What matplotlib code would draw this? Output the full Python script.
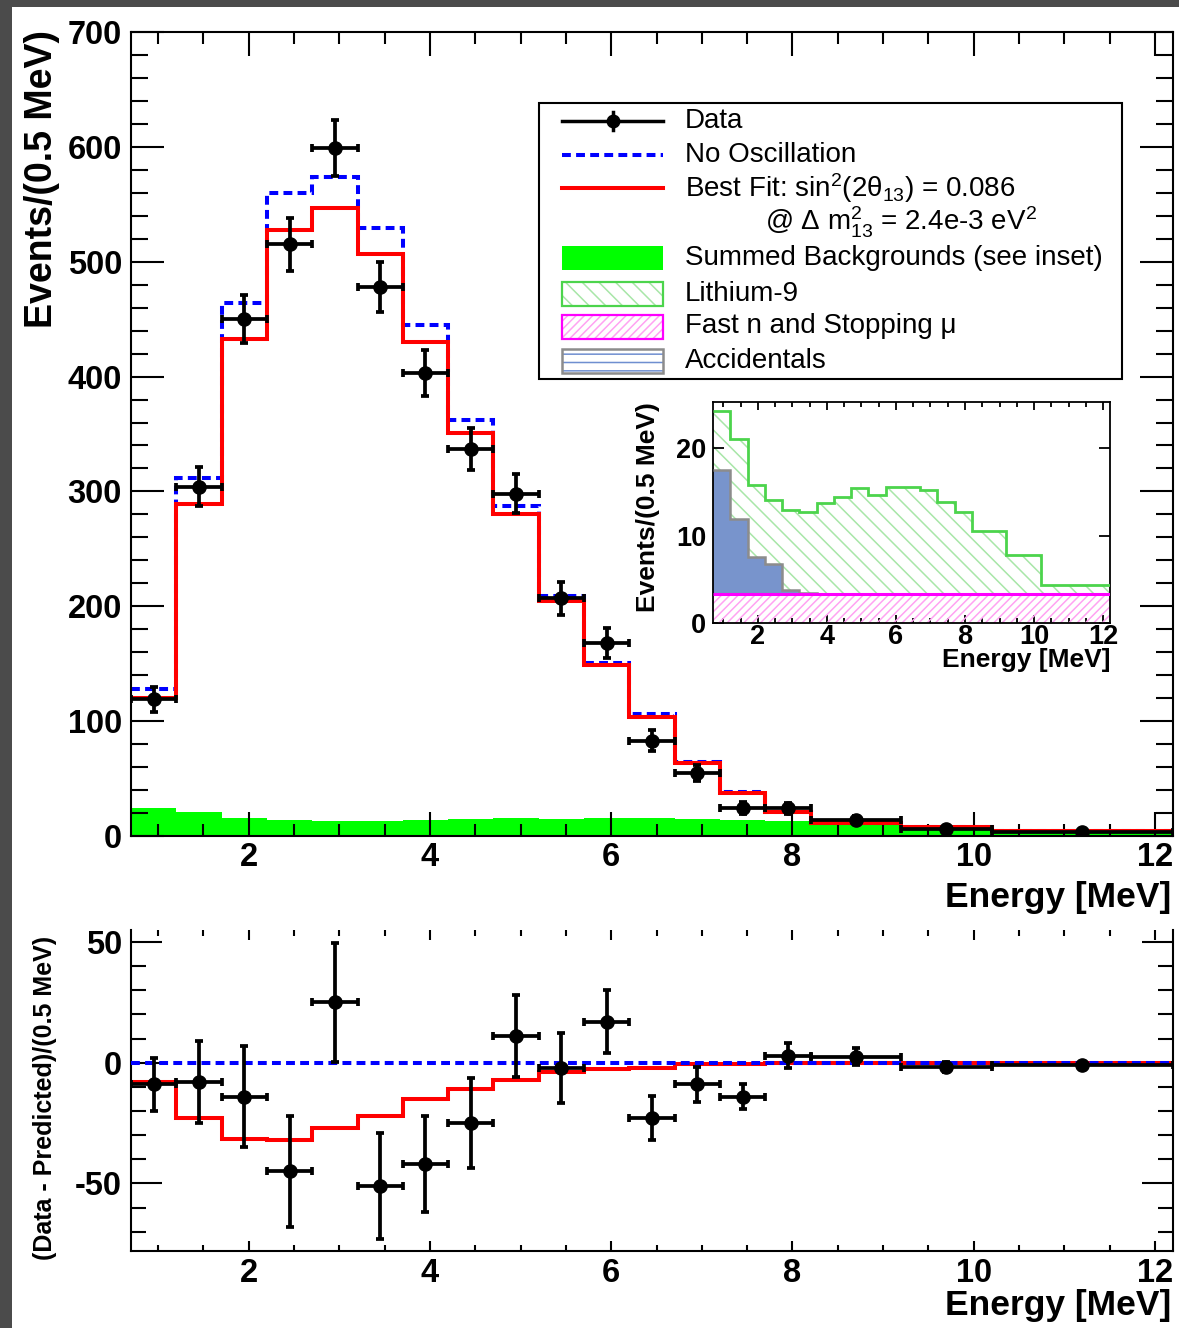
import matplotlib
matplotlib.use('Agg')
import matplotlib.pyplot as plt
from matplotlib.patches import Rectangle
from matplotlib.lines import Line2D
from matplotlib.ticker import MultipleLocator
import numpy as np

plt.rcParams['font.family'] = ['Liberation Sans', 'DejaVu Sans']
plt.rcParams['mathtext.fontset'] = 'custom'
plt.rcParams['mathtext.rm'] = 'Liberation Sans'
plt.rcParams['mathtext.it'] = 'Liberation Sans:italic'
plt.rcParams['mathtext.bf'] = 'Liberation Sans:bold'
plt.rcParams['axes.unicode_minus'] = False
plt.rcParams['hatch.linewidth'] = 1.1

# prompt energy bins [MeV]; the last three bins are wider, contents are per 0.5 MeV
edges = [0.7, 1.2, 1.7, 2.2, 2.7, 3.2, 3.7, 4.2, 4.7, 5.2, 5.7, 6.2, 6.7, 7.2,
         7.7, 8.2, 9.2, 10.2, 12.2]

data = [119, 304, 450, 515, 599, 478, 403, 337, 298, 207, 168, 83, 55, 24,
        24, 14, 6, 3.5]
data_err = [11, 17, 21, 23, 24.5, 22, 20, 18.5, 17, 14.5, 13, 9.2, 7.2, 5.2,
            5, 3.5, 2, 1.5]
no_osc = [128, 312, 464, 560, 574, 529, 445, 362, 287, 209, 151, 106, 64, 38,
          21, 11.5, 7.8, 4.5]
best_fit = [120, 289, 432.5, 528, 547, 507, 430, 351, 280, 205, 148.5, 104,
            63.5, 37.5, 21, 11.5, 7.8, 4.5]

# background components
fast_n = [3.35, 3.35, 3.35, 3.35, 3.35, 3.35, 3.35, 3.35, 3.35, 3.35, 3.35,
          3.35, 3.35, 3.35, 3.35, 3.35, 3.35, 3.35]
accidentals = [14.2, 8.6, 4.2, 3.4, 0.45, 0.05, 0, 0, 0, 0, 0, 0, 0, 0, 0, 0,
               0, 0]
lithium = [6.75, 9.15, 8.25, 7.35, 9.1, 9.3, 10.35, 11.05, 12.05, 11.35,
           12.25, 12.25, 11.85, 10.55, 9.35, 7.15, 4.45, 0.95]

edges = np.array(edges)
centers = 0.5 * (edges[1:] + edges[:-1])
half = 0.5 * (edges[1:] - edges[:-1])
data = np.array(data)
no_osc = np.array(no_osc)
best_fit = np.array(best_fit)
lvl_fn = np.array(fast_n)
lvl_acc = lvl_fn + np.array(accidentals)
lvl_li = lvl_acc + np.array(lithium)

W, H = 1179, 1328
fig = plt.figure(figsize=(W / 100, H / 100), dpi=100)


def box(x0, y0, x1, y1):
    # pixel box (top-left origin) -> figure fraction rect
    return [x0 / W, 1 - y1 / H, (x1 - x0) / W, (y1 - y0) / H]


def fp(x, y):
    return x / W, 1 - y / H


# dark frame strips
fig.add_artist(Rectangle((0, 0), 12 / W, 1, transform=fig.transFigure,
                         color='#4b4b4b', lw=0, zorder=-5))
fig.add_artist(Rectangle((0, 1 - 7 / H), 1, 7 / H, transform=fig.transFigure,
                         color='#4b4b4b', lw=0, zorder=-5))

blue_dash = (0, (2.2, 1.3))


def style_axes(a, xmaj, xmin, ymaj, ymin, lw=1.5):
    for s in a.spines.values():
        s.set_linewidth(lw)
    a.tick_params(which='both', direction='in', top=True, right=True,
                  width=lw, colors='black')
    a.tick_params(axis='x', which='major', length=xmaj)
    a.tick_params(axis='x', which='minor', length=xmin)
    a.tick_params(axis='y', which='major', length=ymaj)
    a.tick_params(axis='y', which='minor', length=ymin)


# ---- main spectrum
ax = fig.add_axes(box(131, 32, 1173, 836))
ax.stairs(lvl_li, edges, fill=True, color='#00ff00', lw=0, zorder=1)
ax.stairs(no_osc, edges, baseline=None, color='#0000ff', lw=2.9,
          linestyle=blue_dash, zorder=2)
ax.stairs(best_fit, edges, baseline=None, color='#ff0000', lw=2.9, zorder=3)
ax.errorbar(centers, data, xerr=half, yerr=data_err, fmt='o', color='black',
            ms=9.5, elinewidth=2.7, capsize=3.2, capthick=2.7, zorder=4)
ax.set_xlim(0.7, 12.2)
ax.set_ylim(0, 700)
ax.xaxis.set_major_locator(MultipleLocator(2))
ax.xaxis.set_minor_locator(MultipleLocator(0.5))
ax.yaxis.set_major_locator(MultipleLocator(100))
ax.yaxis.set_minor_locator(MultipleLocator(20))
style_axes(ax, 17, 8.5, 24, 12.5)
ax.tick_params(axis='x', pad=4)
ax.tick_params(axis='y', pad=6.5)
for lab in ax.get_xticklabels() + ax.get_yticklabels():
    lab.set_fontsize(23.5)
    lab.set_fontweight('bold')

fig.text(*fp(42, 179), 'Events/(0.5 MeV)', rotation=90, ha='center',
         va='center', fontsize=27, fontweight='bold')
fig.text(*fp(1171, 897), 'Energy [MeV]', ha='right', va='center',
         fontsize=25.5, fontweight='bold')

# ---- inset: background breakdown
axi = fig.add_axes(box(713, 402, 1110, 623))
axi.stairs(lvl_li, edges, baseline=lvl_acc, fill=True, facecolor='none',
           edgecolor='#a8e6a8', hatch='\\\\', lw=0, zorder=1)
axi.stairs(lvl_acc, edges, baseline=lvl_fn, fill=True, facecolor='#7894cc',
           lw=0, zorder=2)
axi.stairs(lvl_fn, edges, baseline=0, fill=True, facecolor='none',
           edgecolor='#ffa3f2', hatch='////', lw=0, zorder=2)
axi.stairs(lvl_li, edges, baseline=None, color='#4cd44c', lw=2.0, zorder=3)
axi.stairs(lvl_acc, edges, baseline=None, color='#8c8c8c', lw=1.8, zorder=3)
axi.stairs(lvl_fn, edges, baseline=None, color='#ff00ff', lw=2.2, zorder=4)
axi.set_xlim(0.7, 12.2)
axi.set_ylim(0, 25.3)
axi.xaxis.set_major_locator(MultipleLocator(2))
axi.xaxis.set_minor_locator(MultipleLocator(0.5))
axi.yaxis.set_major_locator(MultipleLocator(10))
style_axes(axi, 6, 3.5, 8, 4, lw=1.3)
axi.tick_params(axis='x', pad=1)
axi.tick_params(axis='y', pad=5)
for lab in axi.get_xticklabels() + axi.get_yticklabels():
    lab.set_fontsize(19.5)
    lab.set_fontweight('bold')
fig.text(*fp(648, 507), 'Events/(0.5 MeV)', rotation=90, ha='center',
         va='center', fontsize=19, fontweight='bold')
fig.text(*fp(1110, 660), 'Energy [MeV]', ha='right', va='center',
         fontsize=19, fontweight='bold')

# ---- legend
fig.add_artist(Rectangle(fp(539, 379), 583 / W, 276 / H,
                         transform=fig.transFigure, facecolor='white',
                         edgecolor='black', lw=1.5, zorder=5))
hx0, hx1, tx = 562, 663, 685


def hline(y, **kw):
    (a, b), (c, d) = fp(hx0, y), fp(hx1, y)
    fig.add_artist(Line2D([a, c], [b, d], transform=fig.transFigure,
                          zorder=6, **kw))


def hbox(y, **kw):
    fig.add_artist(Rectangle(fp(hx0, y + 12), (hx1 - hx0) / W, 24 / H,
                             transform=fig.transFigure, zorder=6, **kw))


hline(121, color='black', lw=2.5)
mx, my = fp(613, 121)
fig.add_artist(Line2D([mx], [my], marker='o', ms=9, color='black',
                      transform=fig.transFigure, zorder=7))
fig.add_artist(Line2D([mx, mx], [fp(0, 112)[1], fp(0, 130)[1]], color='black',
                      lw=2.5, transform=fig.transFigure, zorder=7))
hline(155, color='#0000ff', lw=2.9, linestyle=blue_dash)
hline(188, color='#ff0000', lw=2.9)
hbox(258, facecolor='#00ff00', lw=0)
hbox(294, facecolor='white', edgecolor='#a8e6a8', hatch='\\\\', lw=0)
hbox(294, facecolor='none', edgecolor='#4cd44c', lw=1.6)
hbox(327, facecolor='white', edgecolor='#ffa3f2', hatch='////', lw=0)
hbox(327, facecolor='none', edgecolor='#ff00ff', lw=1.6)
hbox(361, facecolor='white', edgecolor='#6f8fd0', hatch='--', lw=0)
hbox(361, facecolor='none', edgecolor='#8c8c8c', lw=1.8)

leg_font = dict(fontsize=20, ha='left', va='center', zorder=7)
fig.text(*fp(tx, 121), 'Data', **leg_font)
fig.text(*fp(tx, 155), 'No Oscillation', **leg_font)
fig.text(*fp(tx, 188), r'Best Fit: sin$^{2}$(2θ$_{13}$) = 0.086', **leg_font)
fig.text(*fp(765, 222), r'@ Δ $\mathregular{m^{2}_{13}}$ = 2.4e-3 eV$^{2}$',
         **leg_font)
fig.text(*fp(tx, 258), 'Summed Backgrounds (see inset)', **leg_font)
fig.text(*fp(tx, 294), 'Lithium-9', **leg_font)
fig.text(*fp(tx, 326), 'Fast n and Stopping μ', **leg_font)
fig.text(*fp(tx, 361), 'Accidentals', **leg_font)

# ---- residuals w.r.t. no-oscillation prediction
ax2 = fig.add_axes(box(131, 930, 1173, 1251))
ax2.stairs(best_fit - no_osc, edges, baseline=None, color='#ff0000', lw=2.9,
           zorder=2)
ax2.axhline(0, color='#0000ff', lw=2.9, linestyle=blue_dash, zorder=3)
ax2.errorbar(centers, data - no_osc, xerr=half, yerr=data_err, fmt='o',
             color='black', ms=9.5, elinewidth=2.7, capsize=3.2,
             capthick=2.7, zorder=4)
ax2.set_xlim(0.7, 12.2)
ax2.set_ylim(-78, 55)
ax2.xaxis.set_major_locator(MultipleLocator(2))
ax2.xaxis.set_minor_locator(MultipleLocator(0.5))
ax2.yaxis.set_major_locator(MultipleLocator(50))
ax2.yaxis.set_minor_locator(MultipleLocator(10))
style_axes(ax2, 7, 4.5, 22, 11)
ax2.spines['top'].set_visible(False)
ax2.tick_params(axis='x', pad=5)
ax2.tick_params(axis='y', pad=6.5)
for lab in ax2.get_xticklabels() + ax2.get_yticklabels():
    lab.set_fontsize(23.5)
    lab.set_fontweight('bold')

fig.text(*fp(45, 1098), '(Data - Predicted)/(0.5 MeV)', rotation=90,
         ha='center', va='center', fontsize=18, fontweight='bold')
fig.text(*fp(1171, 1305), 'Energy [MeV]', ha='right', va='center',
         fontsize=25.5, fontweight='bold')

fig.savefig('out.png', dpi=100)
